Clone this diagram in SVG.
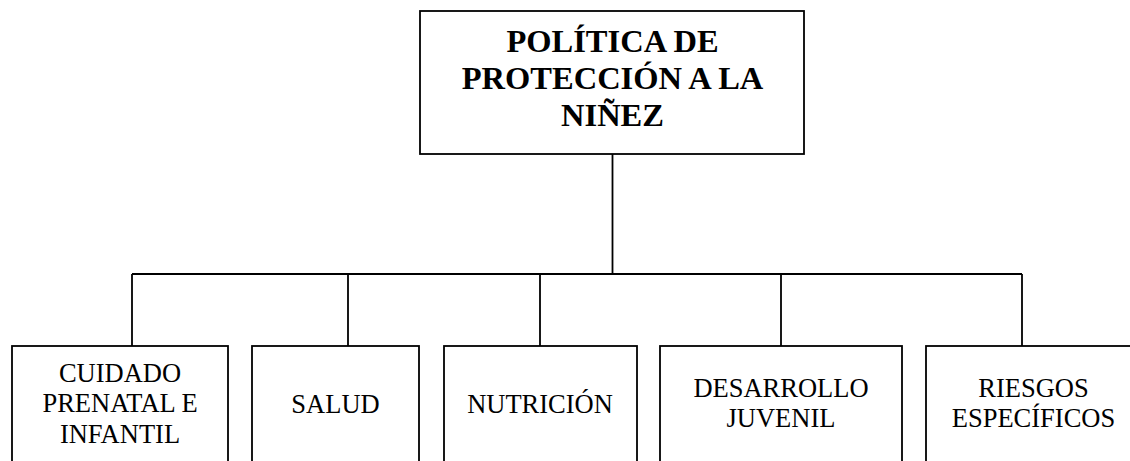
<svg xmlns="http://www.w3.org/2000/svg" width="1130" height="461" viewBox="0 0 1130 461">
<style>
.box{fill:#fff;stroke:#000;stroke-width:1.8}
.ln{fill:none;stroke:#000;stroke-width:1.8}
text{font-family:'Liberation Serif',Tinos,'DejaVu Serif',serif;fill:#000;text-anchor:middle}
.top{font-size:32.5px;font-weight:bold}
.sub{font-size:26.5px}
</style>
<rect width="1130" height="461" fill="#fff"/>
<g id="connectors">
<path class="ln" d="M612.5 154V274M132 274H1022M132 274V346M348 274V346M540 274V346M781 274V346M1022 274V346"/>
</g>
<g id="root">
<rect class="box" x="420" y="11" width="384" height="143"/>
<text class="top" x="612.5" y="52" font-family="Liberation Serif, serif">POLÍTICA DE</text>
<text class="top" x="612.5" y="89" font-family="Liberation Serif, serif">PROTECCIÓN A LA</text>
<text class="top" x="612.5" y="126" font-family="Liberation Serif, serif">NIÑEZ</text>
</g>
<g id="cuidado">
<rect class="box" x="12" y="346" width="216" height="130"/>
<text class="sub" x="120" y="382">CUIDADO</text>
<text class="sub" x="120" y="412">PRENATAL E</text>
<text class="sub" x="120" y="443">INFANTIL</text>
</g>
<g id="salud">
<rect class="box" x="252" y="346" width="167" height="130"/>
<text class="sub" x="335.5" y="413">SALUD</text>
</g>
<g id="nutricion">
<rect class="box" x="444" y="346" width="193" height="130"/>
<text class="sub" x="540" y="413">NUTRICIÓN</text>
</g>
<g id="desarrollo">
<rect class="box" x="660" y="346" width="242" height="130"/>
<text class="sub" x="781" y="397">DESARROLLO</text>
<text class="sub" x="781" y="427">JUVENIL</text>
</g>
<g id="riesgos">
<rect class="box" x="926" y="346" width="215" height="130"/>
<text class="sub" x="1033.5" y="397">RIESGOS</text>
<text class="sub" x="1033.5" y="427">ESPECÍFICOS</text>
</g>
</svg>
